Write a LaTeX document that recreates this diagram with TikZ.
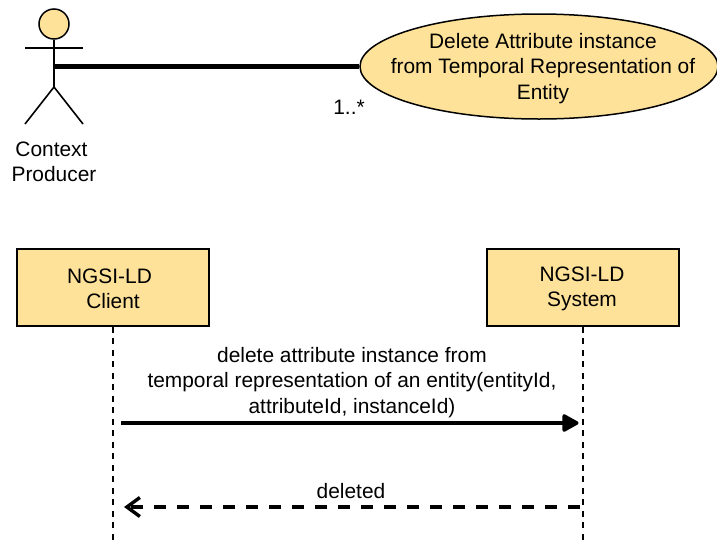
\documentclass[tikz,border=0pt]{standalone}
\usepackage{fontspec}
\setmainfont{Liberation Sans}
\usetikzlibrary{shapes.geometric,arrows.meta}
\definecolor{umlfill}{HTML}{FFE299}
\tikzset{
    lbl/.style={align=center,font=\fontsize{20.9}{25.5}\selectfont,inner sep=0pt},
    lifebox/.style={draw,fill=umlfill,line width=1.6pt,minimum width=192pt,minimum height=77pt},
    lifeline/.style={line width=2pt,dash pattern=on 6pt off 5.5pt},
    stick/.style={line width=1.6pt}
}
\begin{document}
\begin{tikzpicture}[x=1pt,y=-1pt]
    \useasboundingbox (0,0) rectangle (717,544);
    % actor
    \node[circle,draw,fill=umlfill,line width=1.5pt,minimum size=30pt,inner sep=0pt] (head) at (54,24) {};
    \coordinate (hip) at (54,87);
    \coordinate (neck) at (54,66.5);
    \coordinate (armL) at (25,48);
    \coordinate (armR) at (83,48);
    \coordinate (footL) at (25,124);
    \coordinate (footR) at (83,124);
    \draw[stick] (head) -- (hip);
    \draw[stick] (armL) -- (armR);
    \draw[stick] (footL) -- (hip) -- (footR);
    \node[lbl] (actor) at (54,162) {Context\rule{5pt}{0pt}\\Producer};
    % use case
    \node[ellipse,draw,fill=umlfill,line width=1.5pt,minimum width=358pt,minimum height=105pt,inner sep=0pt] (usecase) at (539,66.5) {};
    \node[lbl] (usecaseText) at (543,68.5) {Delete Attribute instance\\from Temporal Representation of\\Entity};
    \draw[line width=4.2pt] (neck) -- (usecase.west);
    \node[lbl] (mult) at (349,107) {1..*};
    % sequence
    \node[lifebox] (client) at (113,287.5) {};
    \node[lifebox] (system) at (583,287.5) {};
    \node[lbl] (clientText) at (113,289) {NGSI-LD\rule{7pt}{0pt}\\Client};
    \node[lbl] (systemText) at (582,289) {NGSI-LD\\System};
    \coordinate (clientEnd) at (113,540);
    \coordinate (systemEnd) at (582.5,540);
    \draw[lifeline] (client.south) -- (clientEnd);
    \draw[lifeline] (system.south -| systemEnd) -- (systemEnd);
    \coordinate (reqStart) at (121,423);
    \coordinate (reqEnd) at (578.5,423);
    \coordinate (ansStart) at (580,507);
    \coordinate (ansEnd) at (124,507);
    \draw[line width=3.4pt,-{Triangle[length=18pt,width=19pt,line join=round]}] (reqStart) -- (reqEnd);
    \draw[line width=3.4pt,dash pattern=on 12pt off 11pt,-{Straight Barb[length=13pt,width=19pt]}] (ansStart) -- (ansEnd);
    \node[lbl] (req) at (352,382.5) {delete attribute instance from\\temporal representation of an entity(entityId,\\attributeId, instanceId)};
    \node[lbl] (ans) at (351,491.5) {deleted};
\end{tikzpicture}
\end{document}
